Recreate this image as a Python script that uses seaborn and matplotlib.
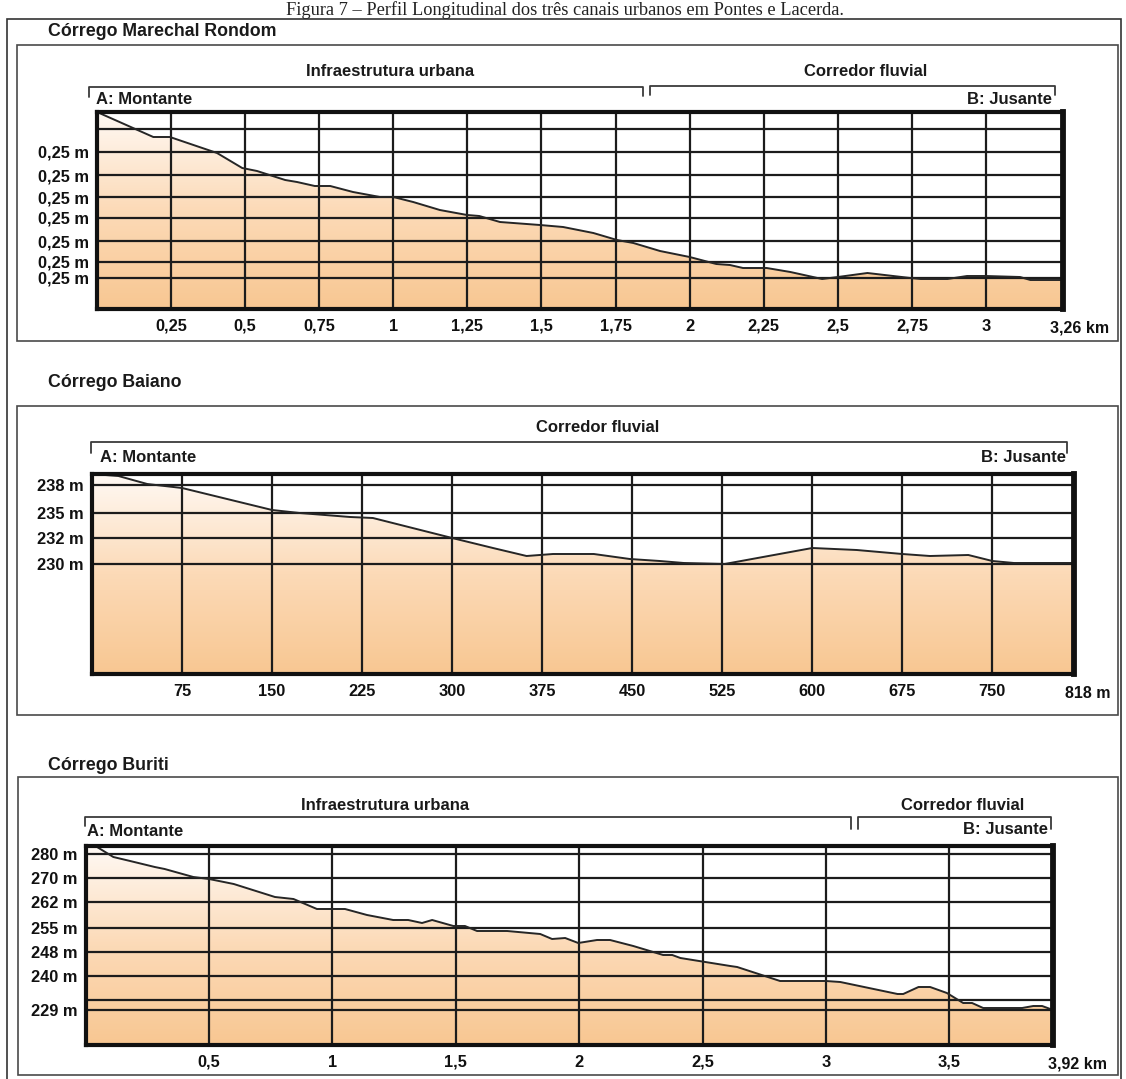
import numpy as np
import matplotlib
matplotlib.use("Agg")
import matplotlib.pyplot as plt
import seaborn as sns
import pandas as pd
from matplotlib.colors import LinearSegmentedColormap
from matplotlib.patches import Rectangle
from matplotlib.lines import Line2D
from matplotlib.transforms import blended_transform_factory

# ------------------------------------------------------------------
# DATA (schematic relative heights)
# ------------------------------------------------------------------
# Córrego Marechal Rondom  (distance in km, relative height)
mr_dist = [0.0, 0.19, 0.246, 0.405, 0.49, 0.54, 0.635, 0.675, 0.735, 0.787,
           0.864, 0.955, 1.0, 1.067, 1.157, 1.249, 1.29, 1.36, 1.495, 1.573,
           1.675, 1.755, 1.81, 1.9, 2.0, 2.09, 2.136, 2.18, 2.26, 2.34,
           2.447, 2.5, 2.6, 2.745, 2.78, 2.87, 2.936, 3.0, 3.115, 3.15, 3.26]
mr_elev = [197, 172, 172, 156, 141, 138, 129, 127, 123, 123,
           117, 112, 112, 107, 99, 94, 93, 87, 84, 82,
           76, 69, 66, 58, 52, 45, 44, 41, 41, 37,
           30, 32, 36, 31, 30, 30, 33, 33, 32, 29, 29]
mr_hgrid = [31, 47, 68, 91, 112, 134, 157, 180]
mr_ytick_pos = [157, 134, 112, 91, 68, 47, 31]
mr_ytick_lab = ["0,25 m"] * 7
mr_xticks = [0.25, 0.5, 0.75, 1, 1.25, 1.5, 1.75, 2, 2.25, 2.5, 2.75, 3]
mr_xlabels = ["0,25", "0,5", "0,75", "1", "1,25", "1,5", "1,75", "2",
              "2,25", "2,5", "2,75", "3"]
mr_xmax, mr_ymax = 3.26, 197
mr_end = "3,26 km"

# Córrego Baiano  (distance in m, relative height)
ba_dist = [0, 22, 46, 75, 150, 173, 215, 234, 300, 334, 362, 384, 418, 448,
           473, 493, 527, 600, 637, 675, 698, 730, 750, 768, 818]
ba_elev = [200, 198, 190, 186, 164, 161, 157, 156, 136, 126, 118, 120, 120,
           115, 113, 111, 110, 126, 124, 120, 118, 119, 113, 111, 111]
ba_hgrid = [110, 136, 161, 189]
ba_ytick_pos = [189, 161, 136, 110]
ba_ytick_lab = ["238 m", "235 m", "232 m", "230 m"]
ba_xticks = [75, 150, 225, 300, 375, 450, 525, 600, 675, 750]
ba_xlabels = ["75", "150", "225", "300", "375", "450", "525", "600", "675", "750"]
ba_xmax, ba_ymax = 818, 200
ba_end = "818 m"

# Córrego Buriti  (distance in km, relative height)
bu_dist = [0.0, 0.046, 0.112, 0.18, 0.28, 0.32, 0.436, 0.5, 0.6, 0.767,
           0.842, 0.937, 1.051, 1.14, 1.246, 1.307, 1.363, 1.404, 1.49, 1.537,
           1.586, 1.708, 1.842, 1.89, 1.943, 1.996, 2.072, 2.125, 2.219, 2.34,
           2.377, 2.41, 2.612, 2.64, 2.814, 3.0, 3.058, 3.29, 3.313, 3.375,
           3.422, 3.49, 3.556, 3.592, 3.637, 3.795, 3.84, 3.876, 3.92]
bu_elev = [199, 198, 188, 184, 178, 176, 168, 166, 161, 148,
           146, 136, 136, 130, 125, 125, 122, 125, 119, 119,
           114, 114, 111, 106, 107, 102, 105, 105, 99, 90,
           90, 87, 79, 78, 64, 64, 63, 51, 51, 58,
           58, 52, 42, 42, 37, 37, 39, 39, 35]
bu_hgrid = [35, 45, 69, 93, 117, 143, 167, 191]
bu_ytick_pos = [191, 167, 143, 117, 93, 69, 35]
bu_ytick_lab = ["280 m", "270 m", "262 m", "255 m", "248 m", "240 m", "229 m"]
bu_xticks = [0.5, 1, 1.5, 2, 2.5, 3, 3.5]
bu_xlabels = ["0,5", "1", "1,5", "2", "2,5", "3", "3,5"]
bu_xmax, bu_ymax = 3.92, 199
bu_end = "3,92 km"

titles = ["Córrego Marechal Rondom", "Córrego Baiano", "Córrego Buriti"]
caption = "Figura 7 – Perfil Longitudinal dos três canais urbanos em Pontes e Lacerda."

# ------------------------------------------------------------------
sns.set_theme(style="white")
plt.rcParams["font.family"] = ["Liberation Sans", "DejaVu Sans"]

W, H = 1126, 1079
fig = plt.figure(figsize=(W / 100, H / 100), dpi=100)
fig.patch.set_facecolor("white")

TICK_FS = 11.8
LAB_FS = 12
TITLE_FS = 12.8


def fx(px):
    return px / W


def fy(py):
    return 1 - py / H


grad_cmap = LinearSegmentedColormap.from_list(
    "terrain_fill", ["#f8c792", "#fcdab7", "#fff9f4"])
INK = "#1c1c1c"


def profile_panel(rect_px, dist, elev, hgrid, ytpos, ytlab, xticks, xlabels,
                  xmax, ymax, end_label, end_off):
    x0, y0, x1, y1 = rect_px
    ax = fig.add_axes([fx(x0), fy(y1), (x1 - x0) / W, (y1 - y0) / H])
    df = pd.DataFrame({"dist": dist, "elev": elev})
    coll = ax.fill_between(df["dist"], df["elev"], 0, color="none", lw=0)
    grad = np.linspace(0, 1, 256).reshape(-1, 1)
    im = ax.imshow(grad, extent=[0, xmax, 0, ymax], origin="lower",
                   aspect="auto", cmap=grad_cmap, zorder=1)
    im.set_clip_path(coll.get_paths()[0], transform=ax.transData)
    for h in hgrid:
        ax.axhline(h, color=INK, lw=1.6, zorder=2)
    for xv in xticks:
        ax.axvline(xv, color=INK, lw=1.6, zorder=2)
    sns.lineplot(data=df, x="dist", y="elev", ax=ax, color="#262626",
                 lw=1.4, sort=False, zorder=4)
    ax.set_xlim(0, xmax)
    ax.set_ylim(0, ymax)
    ax.set_xlabel("")
    ax.set_ylabel("")
    ax.set_xticks(xticks, xlabels)
    ax.set_yticks(ytpos, ytlab)
    ax.tick_params(length=0, labelsize=TICK_FS)
    ax.tick_params(axis="x", pad=7)
    ax.tick_params(axis="y", pad=6)
    for lab in ax.get_xticklabels() + ax.get_yticklabels():
        lab.set_fontweight("bold")
        lab.set_color("#111111")
    for side, sp in ax.spines.items():
        sp.set_visible(True)
        sp.set_color("#111111")
        sp.set_linewidth(4.2 if side == "right" else 3.0)
        sp.set_zorder(5)
    ax.annotate(end_label, xy=(1, 0), xycoords="axes fraction",
                xytext=(end_off, -19), textcoords="offset pixels",
                ha="left", va="center", fontsize=11.5, fontweight="bold",
                color="#111111")
    return ax


def bracket(ax, xa, xb, y_line, drop_a, drop_b):
    tr = blended_transform_factory(ax.transData, fig.transFigure)
    fig.add_artist(Line2D([xa, xa, xb, xb],
                          [fy(y_line + drop_a), fy(y_line), fy(y_line), fy(y_line + drop_b)],
                          transform=tr, color="#3a3a3a", lw=1.3))


def label(ax, x, y_px, text, ha="center", size=LAB_FS):
    tr = blended_transform_factory(ax.transData, fig.transFigure)
    fig.text(x, fy(y_px), text, transform=tr, ha=ha, va="center",
             fontsize=size, fontweight="bold", color="#1a1a1a")


def box(x0, y0, x1, y1, lw=1.2, color="#4a4a4a"):
    fig.add_artist(Rectangle((fx(x0), fy(y1)), (x1 - x0) / W, (y1 - y0) / H,
                             transform=fig.transFigure, fill=False, lw=lw,
                             ec=color))


# frames
box(7, 19, 1121, 1085, lw=1.2, color="#333333")
box(17, 45, 1118, 341)
box(17, 406, 1118, 715)
box(18, 777, 1118, 1075)

# caption above the frame
fig.text(fx(565), fy(1), caption, ha="center", va="top",
         fontsize=13.2, family="Liberation Serif", color="#222222")

# panel titles
for t, ypx in zip(titles, [31, 382, 766]):
    fig.text(fx(48), fy(ypx), t, ha="left", va="center", fontsize=TITLE_FS,
             fontweight="bold", color="#1a1a1a")

# ---- panel 1
ax1 = profile_panel((97, 112, 1063, 309), mr_dist, mr_elev, mr_hgrid,
                    mr_ytick_pos, mr_ytick_lab, mr_xticks, mr_xlabels,
                    mr_xmax, mr_ymax, mr_end, -13)
bracket(ax1, -0.027, 1.843, 87, 10, 9)
bracket(ax1, 1.866, 3.233, 86, 9, 9)
label(ax1, 0.989, 72, "Infraestrutura urbana")
label(ax1, 2.595, 72, "Corredor fluvial")
label(ax1, -0.003, 99, "A: Montante", ha="left")
label(ax1, 3.223, 99, "B: Jusante", ha="right")

# ---- panel 2
ax2 = profile_panel((92, 474, 1074, 674), ba_dist, ba_elev, ba_hgrid,
                    ba_ytick_pos, ba_ytick_lab, ba_xticks, ba_xlabels,
                    ba_xmax, ba_ymax, ba_end, -9)
bracket(ax2, -0.8, 812.5, 442, 11, 11)
label(ax2, 421, 428, "Corredor fluvial")
label(ax2, 6.7, 457, "A: Montante", ha="left")
label(ax2, 811, 457, "B: Jusante", ha="right")

# ---- panel 3
ax3 = profile_panel((85.7, 846, 1053, 1045), bu_dist, bu_elev, bu_hgrid,
                    bu_ytick_pos, bu_ytick_lab, bu_xticks, bu_xlabels,
                    bu_xmax, bu_ymax, bu_end, -5)
bracket(ax3, -0.003, 3.102, 817, 9, 12)
bracket(ax3, 3.131, 3.913, 817, 12, 12)
label(ax3, 1.213, 806, "Infraestrutura urbana")
label(ax3, 3.552, 806, "Corredor fluvial")
label(ax3, 0.005, 831, "A: Montante", ha="left")
label(ax3, 3.9, 830, "B: Jusante", ha="right")

fig.savefig("out.png", dpi=100, facecolor="white")
